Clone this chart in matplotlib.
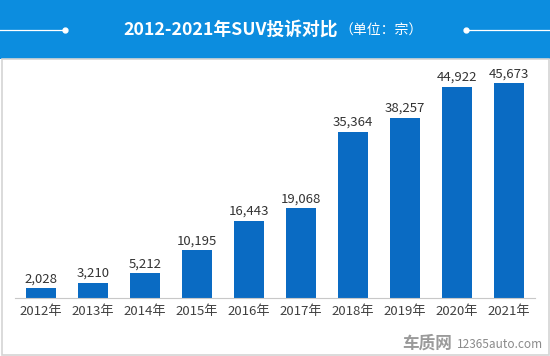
import matplotlib.pyplot as plt
from matplotlib.patches import Rectangle
from matplotlib.lines import Line2D

plt.rcParams['font.family'] = ['Noto Sans CJK SC', 'DejaVu Sans']

years = ["2012年", "2013年", "2014年", "2015年", "2016年",
         "2017年", "2018年", "2019年", "2020年", "2021年"]
complaints = [2028, 3210, 5212, 10195, 16443, 19068, 35364, 38257, 44922, 45673]

W, H = 550, 356
fig = plt.figure(figsize=(W / 100, H / 100), dpi=100)
fig.patch.set_facecolor("white")

# header band
fig.patches.append(Rectangle((0, 1 - 59 / H), 1, 59 / H, transform=fig.transFigure,
                             facecolor="#0C8DDF", edgecolor="none", zorder=0))
# light border round the body
fig.patches.append(Rectangle((1.5 / W, 1.5 / H), (W - 3) / W, (H - 59 - 1.5) / H,
                             transform=fig.transFigure, facecolor="none",
                             edgecolor="#D4D4D4", linewidth=1.2, zorder=0))

ty = 1 - 30 / H
fig.add_artist(Line2D([0, 65 / W], [ty, ty], transform=fig.transFigure, color="white", lw=0.9))
fig.add_artist(Line2D([65 / W], [ty], transform=fig.transFigure, color="white",
                      marker="o", markersize=3.5, lw=0))
fig.add_artist(Line2D([466 / W, 1], [ty, ty], transform=fig.transFigure, color="white", lw=0.9))
fig.add_artist(Line2D([466 / W], [ty], transform=fig.transFigure, color="white",
                      marker="o", markersize=3.5, lw=0))
fig.text(338 / W, ty, "2012-2021年SUV投诉对比", ha="right", va="center",
         color="white", fontsize=12.8, fontweight="bold")
fig.text(339 / W, ty - 0.003, "（单位：宗）", ha="left", va="center",
         color="white", fontsize=10)

ax = fig.add_axes([15 / W, (H - 298) / H, 520 / W, 228 / H])
x = range(len(years))
bars = ax.bar(x, complaints, width=0.58, color="#0A6BC3")
ax.set_xlim(-0.5, len(years) - 0.5)
ax.set_ylim(0, 45673 * 228 / 215)
for b, v in zip(bars, complaints):
    ax.annotate(f"{v:,}", (b.get_x() + b.get_width() / 2, v), xytext=(0, 2),
                textcoords="offset points", ha="center", va="bottom",
                fontsize=9.5, color="#333333")

ax.set_xticks(list(x))
ax.set_xticklabels(years, fontsize=9.5, color="#404040")
ax.tick_params(axis="x", length=0, pad=5)
ax.set_yticks([])
for s in ["top", "right", "left"]:
    ax.spines[s].set_visible(False)
ax.spines["bottom"].set_color("#C8C8C8")
ax.patch.set_alpha(0)

# watermark
fig.text(452 / W, 1 - 344 / H, "车质网", ha="right", va="center",
         color="#9A9A9A", fontsize=12, fontweight="bold")
fig.text(457 / W, 1 - 345 / H, "12365auto.com", ha="left", va="center",
         color="#8A8A8A", fontsize=8.5)

fig.savefig("out.png", dpi=100)
